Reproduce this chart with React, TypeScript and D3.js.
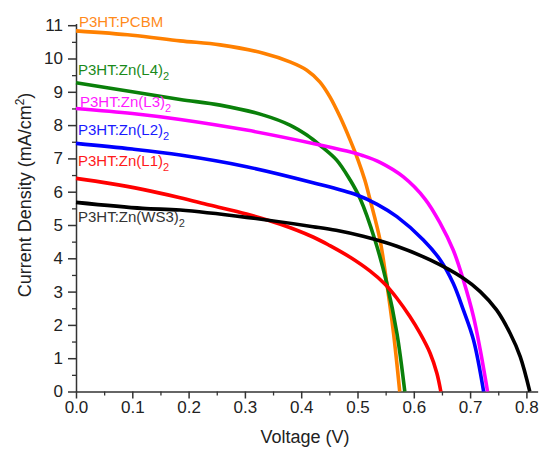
import { useEffect, useRef } from "react";
import * as d3 from "d3";

// J-V curves, voltage in V, current density in mA/cm2
const pcbmV = [0, 0.1, 0.185, 0.256, 0.333, 0.38, 0.41, 0.433, 0.451, 0.469, 0.487, 0.501, 0.513, 0.522, 0.54, 0.552, 0.564, 0.575];
const pcbmJ = [10.83, 10.7, 10.53, 10.41, 10.16, 9.9, 9.65, 9.3, 8.85, 8.25, 7.55, 6.95, 6.35, 5.78, 4.55, 3.25, 1.75, 0];

const l4V = [0, 0.1, 0.185, 0.256, 0.333, 0.38, 0.41, 0.433, 0.463, 0.487, 0.505, 0.531, 0.552, 0.57, 0.584];
const l4J = [9.27, 9.0, 8.77, 8.6, 8.3, 8.0, 7.7, 7.4, 6.95, 6.35, 5.78, 4.55, 3.25, 1.75, 0];

const l3V = [0, 0.1, 0.185, 0.303, 0.421, 0.481, 0.51, 0.54, 0.581, 0.62, 0.647, 0.67, 0.688, 0.706, 0.718, 0.731];
const l3J = [8.5, 8.35, 8.17, 7.85, 7.45, 7.22, 7.08, 6.88, 6.45, 5.78, 5.05, 4.25, 3.35, 2.25, 1.25, 0];

const l2V = [0, 0.1, 0.185, 0.303, 0.421, 0.499, 0.535, 0.57, 0.617, 0.647, 0.67, 0.688, 0.706, 0.724];
const l2J = [7.45, 7.28, 7.1, 6.75, 6.27, 5.9, 5.62, 5.25, 4.55, 3.95, 3.25, 2.45, 1.55, 0];

const l1V = [0, 0.059, 0.118, 0.185, 0.237, 0.303, 0.362, 0.421, 0.451, 0.487, 0.522, 0.549, 0.57, 0.593, 0.611, 0.629, 0.641, 0.648];
const l1J = [6.4, 6.25, 6.07, 5.82, 5.6, 5.33, 5.03, 4.64, 4.38, 4.03, 3.62, 3.22, 2.8, 2.25, 1.75, 1.15, 0.55, 0];

const ws3V = [0, 0.118, 0.185, 0.303, 0.421, 0.462, 0.51, 0.57, 0.629, 0.688, 0.718, 0.747, 0.771, 0.789, 0.806];
const ws3J = [5.68, 5.5, 5.45, 5.23, 4.95, 4.84, 4.66, 4.36, 3.95, 3.4, 3.0, 2.45, 1.75, 1.05, 0];

const seriesNames = ["P3HT:PCBM", "P3HT:Zn(L4)", "P3HT:Zn(L3)", "P3HT:Zn(L2)", "P3HT:Zn(L1)", "P3HT:Zn(WS3)"];
const seriesSub = ["", "2", "2", "2", "2", "2"];
const seriesV = [pcbmV, l4V, l3V, l2V, l1V, ws3V];
const seriesJ = [pcbmJ, l4J, l3J, l2J, l1J, ws3J];

const xTicks = [0, 0.1, 0.2, 0.3, 0.4, 0.5, 0.6, 0.7, 0.8];
const yTicks = [0, 1, 2, 3, 4, 5, 6, 7, 8, 9, 10, 11];

const colors = ["#ff8000", "#0a800a", "#ff00ff", "#0000ff", "#ff0000", "#000000"];
const labelColors = ["#ff8a1a", "#1a8a1a", "#ff1aff", "#1a1aff", "#ff1a1a", "#333333"];
// label anchor (left, baseline) in pixels
const labelPos = [
  [79, 27],
  [78, 75],
  [80, 107],
  [78, 135],
  [78, 166],
  [78, 222],
];

export default function App() {
  const svgRef = useRef(null);

  useEffect(() => {
    const svg = d3.select(svgRef.current);
    svg.selectAll("*").remove();

    const x = d3.scaleLinear().domain([0, 0.82]).range([76, 76 + 0.82 * 563]);
    const y = d3.scaleLinear().domain([0, 11.05]).range([391.5, 391.5 - 11.05 * 33.3]);
    const font = "Liberation Sans, Arial, sans-serif";

    // minor ticks
    const xMinor = d3.range(0.05, 0.82, 0.1);
    const yMinor = d3.range(0.5, 11.05, 1);
    svg
      .append("g")
      .attr("transform", `translate(0,${y(0)})`)
      .call(d3.axisBottom(x).tickValues(xMinor).tickSize(4).tickSizeOuter(0).tickFormat(() => ""))
      .call((g) => g.select(".domain").remove())
      .selectAll("line")
      .attr("stroke", "#333")
      .attr("stroke-width", 1.3);
    svg
      .append("g")
      .attr("transform", `translate(${x(0)},0)`)
      .call(d3.axisLeft(y).tickValues(yMinor).tickSize(4).tickSizeOuter(0).tickFormat(() => ""))
      .call((g) => g.select(".domain").remove())
      .selectAll("line")
      .attr("stroke", "#333")
      .attr("stroke-width", 1.3);

    // major axes
    const xa = svg
      .append("g")
      .attr("transform", `translate(0,${y(0)})`)
      .call(
        d3.axisBottom(x).tickValues(xTicks).tickSize(7).tickSizeOuter(0).tickPadding(2).tickFormat(d3.format(".1f"))
      );
    const ya = svg
      .append("g")
      .attr("transform", `translate(${x(0)},0)`)
      .call(d3.axisLeft(y).tickValues(yTicks).tickSize(8).tickSizeOuter(0).tickPadding(5).tickFormat(d3.format("d")));
    [xa, ya].forEach((a) => {
      a.select(".domain").attr("stroke", "#333").attr("stroke-width", 1.5);
      a.selectAll("line").attr("stroke", "#333").attr("stroke-width", 1.5);
      a.selectAll("text").attr("font-family", font).attr("font-size", 17).attr("fill", "#222");
    });

    // curves
    const line = d3
      .line()
      .x((d) => x(d[0]))
      .y((d) => y(d[1]))
      .curve(d3.curveCatmullRom.alpha(0.5));
    seriesV.forEach((vs, i) => {
      const pts = vs.map((v, k) => [v, seriesJ[i][k]]);
      svg
        .append("path")
        .datum(pts)
        .attr("d", line)
        .attr("fill", "none")
        .attr("stroke", colors[i])
        .attr("stroke-width", 3.6)
        .attr("stroke-linejoin", "round");
    });

    // labels
    seriesNames.forEach((name, i) => {
      const t = svg
        .append("text")
        .attr("x", labelPos[i][0])
        .attr("y", labelPos[i][1])
        .attr("font-family", font)
        .attr("font-size", 15)
        .attr("fill", labelColors[i])
        .text(name);
      if (seriesSub[i]) {
        t.append("tspan").attr("dy", 5).attr("font-size", 11).text(seriesSub[i]);
      }
    });

    // axis titles
    svg
      .append("text")
      .attr("x", 305)
      .attr("y", 443)
      .attr("text-anchor", "middle")
      .attr("font-family", font)
      .attr("font-size", 18)
      .attr("fill", "#222")
      .text("Voltage (V)");
    const yt = svg
      .append("text")
      .attr("transform", "translate(31,195) rotate(-90)")
      .attr("text-anchor", "middle")
      .attr("font-family", font)
      .attr("font-size", 18)
      .attr("fill", "#222")
      .text("Current Density (mA/cm");
    yt.append("tspan").attr("dy", -7).attr("font-size", 12).text("2");
    yt.append("tspan").attr("dy", 7).text(")");
  }, []);

  return (
    <svg
      ref={svgRef}
      width="541"
      height="449"
      style={{ position: "absolute", left: 0, top: 0, background: "#fff" }}
    ></svg>
  );
}
